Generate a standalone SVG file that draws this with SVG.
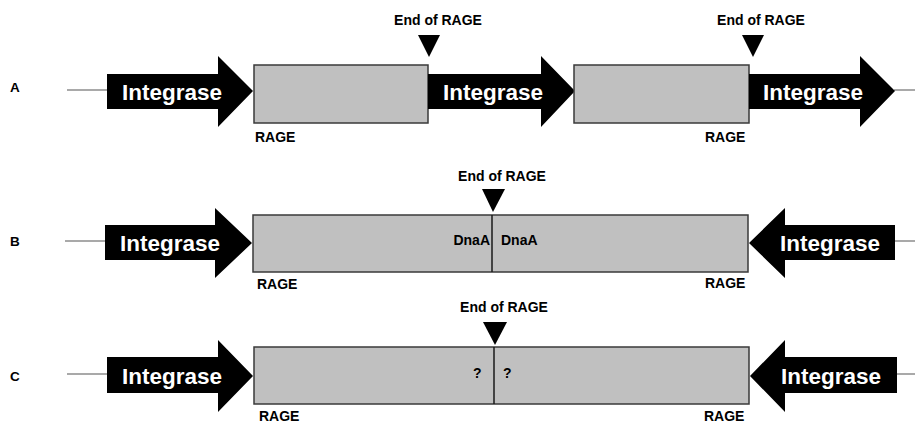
<svg xmlns="http://www.w3.org/2000/svg" width="915" height="424" viewBox="0 0 915 424">
  <style>
    .bg { fill: #ffffff; }
    .axis { stroke: #8c8c8c; stroke-width: 1.5; fill: none; }
    .gene { fill: #000000; }
    .gene-label { fill: #ffffff; font-family: "Liberation Sans", Arial, sans-serif; font-weight: bold; font-size: 22.5px; }
    .rage { fill: #c0c0c0; stroke: #3a3a3a; stroke-width: 1.5; }
    .divider { stroke: #1a1a1a; stroke-width: 1.5; }
    .marker { fill: #000000; }
    .lbl { fill: #000000; font-family: "Liberation Sans", Arial, sans-serif; font-weight: bold; font-size: 14px; }
    .row { fill: #000000; font-family: "Liberation Sans", Arial, sans-serif; font-weight: bold; font-size: 13.5px; }
  </style>
  <rect class="bg" x="0" y="0" width="915" height="424"/>

  <!-- backbone lines -->
  <g id="connectors">
    <line class="axis" x1="67" y1="90" x2="108" y2="90"/>
    <line class="axis" x1="894" y1="90" x2="915" y2="90"/>
    <line class="axis" x1="65" y1="241" x2="106" y2="241"/>
    <line class="axis" x1="894" y1="241" x2="915" y2="241"/>
    <line class="axis" x1="67" y1="374" x2="108" y2="374"/>
    <line class="axis" x1="896" y1="374" x2="915" y2="374"/>
  </g>

  <!-- Row A -->
  <text class="row" x="10" y="92">A</text>
  <g id="a-integrase-1">
    <polygon class="gene" points="107,74 218,74 218,56 253,91 218,127 218,109 107,109"/>
    <text class="gene-label" x="122" y="100">Integrase</text>
  </g>
  <g id="a-rage-1">
    <rect class="rage" x="254" y="65" width="174" height="58"/>
    <text class="lbl" x="255" y="142">RAGE</text>
  </g>
  <g id="a-end-1">
    <text class="lbl" x="438" y="25" text-anchor="middle">End of RAGE</text>
    <polygon class="marker" points="418,35 440,35 429,57"/>
  </g>
  <g id="a-integrase-2">
    <polygon class="gene" points="428,74 541,74 541,56 575,91 541,127 541,109 428,109"/>
    <text class="gene-label" x="443" y="100">Integrase</text>
  </g>
  <g id="a-rage-2">
    <rect class="rage" x="574" y="65" width="175" height="58"/>
    <text class="lbl" x="705" y="142">RAGE</text>
  </g>
  <g id="a-end-2">
    <text class="lbl" x="761" y="25" text-anchor="middle">End of RAGE</text>
    <polygon class="marker" points="742,35 764,35 753,57"/>
  </g>
  <g id="a-integrase-3">
    <polygon class="gene" points="749,74 860,74 860,56 895,91 860,127 860,109 749,109"/>
    <text class="gene-label" x="763" y="100">Integrase</text>
  </g>

  <!-- Row B -->
  <text class="row" x="10" y="246">B</text>
  <g id="b-integrase-left">
    <polygon class="gene" points="105,225 215,225 215,208 252,243 215,278 215,260 105,260"/>
    <text class="gene-label" x="120" y="251">Integrase</text>
  </g>
  <g id="b-rage">
    <rect class="rage" x="253" y="215" width="495" height="57"/>
    <line class="divider" x1="492" y1="215" x2="492" y2="272"/>
    <text class="lbl" x="490" y="245" text-anchor="end">DnaA</text>
    <text class="lbl" x="501" y="245">DnaA</text>
    <text class="lbl" x="257" y="289">RAGE</text>
    <text class="lbl" x="705" y="288">RAGE</text>
  </g>
  <g id="b-end">
    <text class="lbl" x="502" y="181" text-anchor="middle">End of RAGE</text>
    <polygon class="marker" points="482,189 505,189 493,212"/>
  </g>
  <g id="b-integrase-right">
    <polygon class="gene" points="895,225 785,225 785,208 749,243 785,278 785,260 895,260"/>
    <text class="gene-label" x="780" y="251">Integrase</text>
  </g>

  <!-- Row C -->
  <text class="row" x="10" y="381">C</text>
  <g id="c-integrase-left">
    <polygon class="gene" points="107,357 218,357 218,340 253,376 218,412 218,393 107,393"/>
    <text class="gene-label" x="122" y="384">Integrase</text>
  </g>
  <g id="c-rage">
    <rect class="rage" x="254" y="347" width="495" height="57"/>
    <line class="divider" x1="494" y1="347" x2="494" y2="404"/>
    <text class="lbl" x="473" y="378">?</text>
    <text class="lbl" x="503" y="378">?</text>
    <text class="lbl" x="259" y="421">RAGE</text>
    <text class="lbl" x="704" y="421">RAGE</text>
  </g>
  <g id="c-end">
    <text class="lbl" x="504" y="312" text-anchor="middle">End of RAGE</text>
    <polygon class="marker" points="483,322 507,322 495,345"/>
  </g>
  <g id="c-integrase-right">
    <polygon class="gene" points="897,357 785,357 785,340 750,376 785,412 785,393 897,393"/>
    <text class="gene-label" x="781" y="384">Integrase</text>
  </g>
</svg>
